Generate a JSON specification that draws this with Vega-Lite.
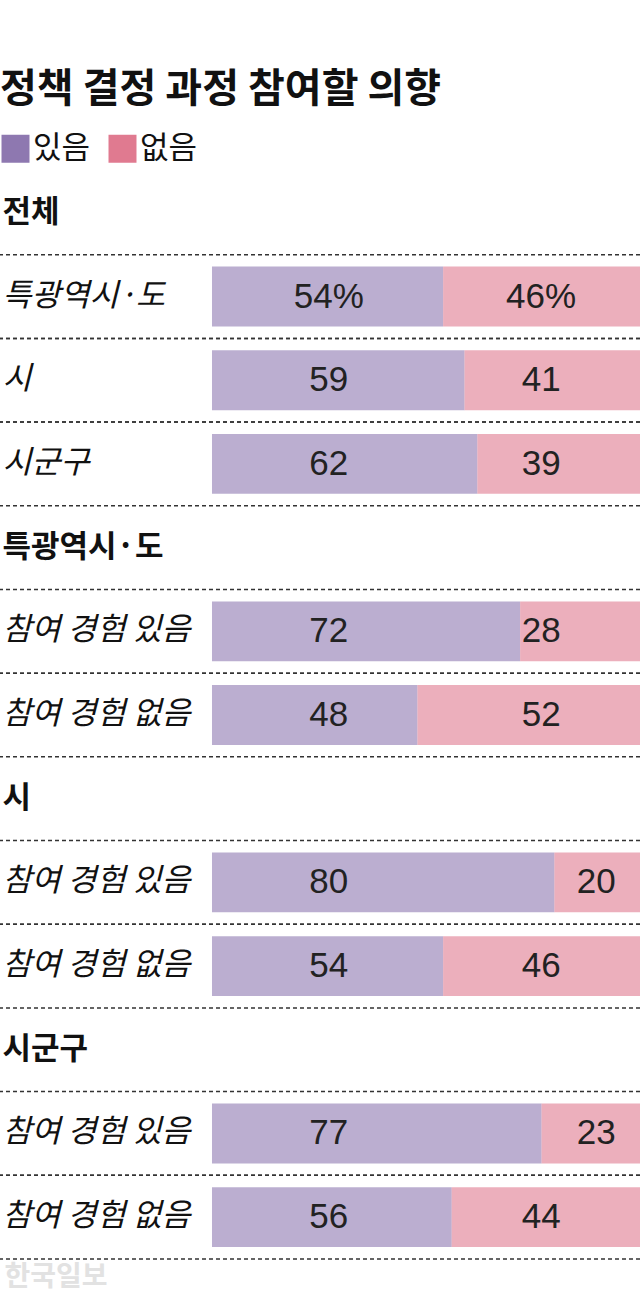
{
  "$schema": "https://vega.github.io/schema/vega-lite/v6.json",
  "width": 640,
  "height": 1088,
  "autosize": {"type": "none"},
  "padding": {"left": 0, "top": 171, "right": 0, "bottom": 43},
  "background": "white",
  "title": {
    "text": "정책 결정 과정 참여할 의향",
    "anchor": "start",
    "frame": "group",
    "fontSize": 40,
    "font": "Noto Sans CJK KR",
    "fontWeight": "bold",
    "color": "#111111",
    "offset": 23
  },
  "config": {
    "view": {"stroke": null}
  },
  "data": {
    "values": [
      {"slot": "R02|특광역시·도", "resp": "있음", "ord": 1, "pct": 54, "label": "54%"},
      {"slot": "R02|특광역시·도", "resp": "없음", "ord": 2, "pct": 46, "label": "46%"},
      {"slot": "R03|시", "resp": "있음", "ord": 1, "pct": 59, "label": "59"},
      {"slot": "R03|시", "resp": "없음", "ord": 2, "pct": 41, "label": "41"},
      {"slot": "R04|시군구", "resp": "있음", "ord": 1, "pct": 62, "label": "62"},
      {"slot": "R04|시군구", "resp": "없음", "ord": 2, "pct": 39, "label": "39"},
      {"slot": "R06|참여 경험 있음", "resp": "있음", "ord": 1, "pct": 72, "label": "72"},
      {"slot": "R06|참여 경험 있음", "resp": "없음", "ord": 2, "pct": 28, "label": "28"},
      {"slot": "R07|참여 경험 없음", "resp": "있음", "ord": 1, "pct": 48, "label": "48"},
      {"slot": "R07|참여 경험 없음", "resp": "없음", "ord": 2, "pct": 52, "label": "52"},
      {"slot": "R09|참여 경험 있음", "resp": "있음", "ord": 1, "pct": 80, "label": "80"},
      {"slot": "R09|참여 경험 있음", "resp": "없음", "ord": 2, "pct": 20, "label": "20"},
      {"slot": "R10|참여 경험 없음", "resp": "있음", "ord": 1, "pct": 54, "label": "54"},
      {"slot": "R10|참여 경험 없음", "resp": "없음", "ord": 2, "pct": 46, "label": "46"},
      {"slot": "R12|참여 경험 있음", "resp": "있음", "ord": 1, "pct": 77, "label": "77"},
      {"slot": "R12|참여 경험 있음", "resp": "없음", "ord": 2, "pct": 23, "label": "23"},
      {"slot": "R13|참여 경험 없음", "resp": "있음", "ord": 1, "pct": 56, "label": "56"},
      {"slot": "R13|참여 경험 없음", "resp": "없음", "ord": 2, "pct": 44, "label": "44"}
    ]
  },
  "encoding": {
    "y": {
      "field": "slot",
      "type": "nominal",
      "scale": {
        "domain": ["H01|전체", "R02|특광역시·도", "R03|시", "R04|시군구", "H05|특광역시·도", "R06|참여 경험 있음", "R07|참여 경험 없음", "H08|시", "R09|참여 경험 있음", "R10|참여 경험 없음", "H11|시군구", "R12|참여 경험 있음", "R13|참여 경험 없음"],
        "paddingInner": 0,
        "paddingOuter": 0
      },
      "axis": {
        "title": null,
        "domain": false,
        "ticks": false,
        "tickSize": 0,
        "grid": false,
        "labelAlign": "left",
        "labelBaseline": "middle",
        "labelPadding": -2,
        "labelLimit": 0,
        "labelOverlap": false,
        "labelBound": false,
        "labelFont": "Noto Sans CJK KR",
        "labelColor": "#111111",
        "labelExpr": "split(datum.value, '|')[1]",
        "labelFontSize": {"condition": {"test": "substring(datum.value, 0, 1) == 'H'", "value": 31}, "value": 31.5},
        "labelFontWeight": {"condition": {"test": "substring(datum.value, 0, 1) == 'H'", "value": "bold"}, "value": "normal"},
        "labelFontStyle": {"condition": {"test": "substring(datum.value, 0, 1) == 'H'", "value": "normal"}, "value": "italic"}
      }
    }
  },
  "layer": [
    {
      "transform": [{"filter": "datum.resp == '있음'"}],
      "mark": {"type": "rule", "strokeDash": [4, 3], "strokeWidth": 1.5, "color": "#333333"},
      "encoding": {
        "y": {"field": "slot", "type": "nominal", "bandPosition": 0}
      }
    },
    {
      "transform": [{"filter": "datum.resp == '있음'"}],
      "mark": {"type": "rule", "strokeDash": [4, 3], "strokeWidth": 1.5, "color": "#333333"},
      "encoding": {
        "y": {"field": "slot", "type": "nominal", "bandPosition": 1}
      }
    },
    {
      "mark": {"type": "bar", "height": {"band": 0.715}, "opacity": 0.6},
      "encoding": {
        "x": {
          "field": "pct",
          "type": "quantitative",
          "stack": "zero",
          "scale": {"domain": [-49.53, 100], "nice": false, "zero": false},
          "axis": {
            "domain": false,
            "ticks": false,
            "labels": false,
            "grid": false,
            "title": "한국일보",
            "titleAnchor": "start",
            "titleAlign": "left",
            "titleBaseline": "top",
            "titlePadding": 4,
            "titleX": 4,
            "titleFont": "Noto Sans CJK KR",
            "titleFontSize": 28,
            "titleFontWeight": "bold",
            "titleColor": "#e2e2e2"
          }
        },
        "color": {
          "field": "resp",
          "type": "nominal",
          "scale": {"domain": ["있음", "없음"], "range": ["#8E78B0", "#E07A90"]},
          "legend": {
            "title": null,
            "orient": "none",
            "legendX": 0,
            "legendY": -38,
            "direction": "horizontal",
            "symbolType": "square",
            "symbolSize": 784,
            "symbolStrokeWidth": 0,
            "symbolOpacity": 1,
            "labelFont": "Noto Sans CJK KR",
            "labelFontSize": 31,
            "labelColor": "#111111",
            "labelOffset": 2,
            "columnPadding": 16
          }
        },
        "order": {"field": "ord", "type": "quantitative"}
      }
    },
    {
      "transform": [{"filter": "datum.resp == '있음'"}],
      "mark": {"type": "text", "font": "Liberation Sans", "fontSize": 35, "color": "#222222", "baseline": "middle"},
      "encoding": {
        "x": {"datum": 27.3, "type": "quantitative"},
        "text": {"field": "label"}
      }
    },
    {
      "transform": [{"filter": "datum.resp == '없음' && datum.pct >= 25"}],
      "mark": {"type": "text", "font": "Liberation Sans", "fontSize": 35, "color": "#222222", "baseline": "middle"},
      "encoding": {
        "x": {"datum": 76.9, "type": "quantitative"},
        "text": {"field": "label"}
      }
    },
    {
      "transform": [{"filter": "datum.resp == '없음' && datum.pct < 25"}],
      "mark": {"type": "text", "font": "Liberation Sans", "fontSize": 35, "color": "#222222", "baseline": "middle"},
      "encoding": {
        "x": {"datum": 89.8, "type": "quantitative"},
        "text": {"field": "label"}
      }
    }
  ]
}
